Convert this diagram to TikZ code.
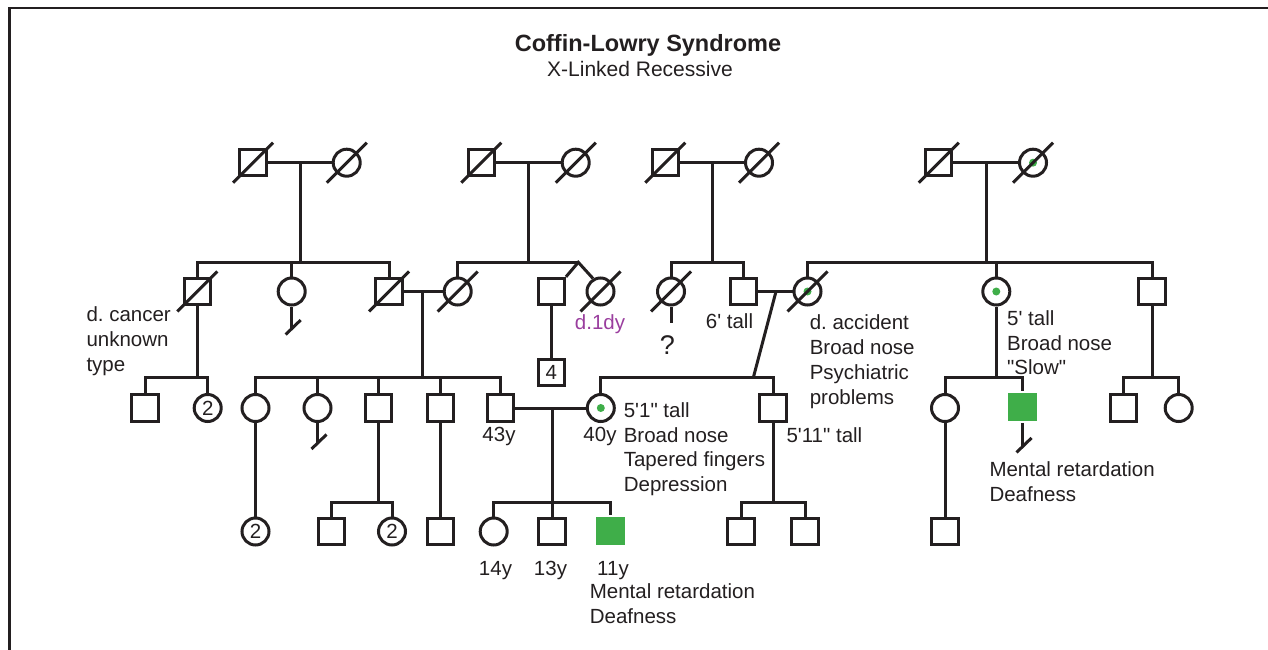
\documentclass[tikz,border=0pt]{standalone}
\usepackage{fontspec}
\setmainfont{Liberation Sans}
\usetikzlibrary{calc}
\definecolor{pdInk}{HTML}{231F20}
\definecolor{pdGreen}{HTML}{3FAE49}
\definecolor{pdPurple}{HTML}{9A3E9E}
\newcommand{\dead}[1]{\draw ($(#1)+(-20,20)$) -- ($(#1)+(20,-20)$);}
\newcommand{\stub}[2]{\draw (#1.south) -- ++(0,#2) coordinate (#1e);
  \draw ($(#1e)+(-6,6)$) -- ($(#1e)+(9,-8.5)$);}
\newcommand{\ft}{\textquotesingle}
\newcommand{\qt}{\textquotedbl}

\begin{document}
\frenchspacing
\begin{tikzpicture}[
  x=1pt,y=-1pt,
  line width=3pt,color=pdInk,
  font=\fontsize{20.5}{24.7}\selectfont,
  male/.style={draw,rectangle,minimum size=26.3pt,inner sep=0pt},
  female/.style={draw,circle,minimum size=27pt,inner sep=0pt},
  carrier/.style={female,path picture={\fill[pdGreen] (path picture bounding box.center) circle[radius=4pt];}},
  hit/.style={rectangle,fill=pdGreen,draw=none,minimum size=28.5pt,inner sep=0pt},
  note/.style={align=left,anchor=north west,inner sep=0pt},
  lbl/.style={anchor=base,inner sep=0pt}
]
\useasboundingbox (0,0) rectangle (1268,650);
\draw[line width=2.4pt] (9.5,650) |- (1268,7.9);
% title
\node[font=\fontsize{23.5}{27}\selectfont\bfseries,lbl] (title) at (648,52) {Coffin-Lowry Syndrome};
\node[font=\fontsize{21}{25}\selectfont,lbl] (subtitle) at (640,77) {X-Linked Recessive};

% generation I
\node[male] (a1) at (253,162.7) {};
\node[female] (a2) at (346.7,162.7) {};
\node[male] (a3) at (481.3,162.7) {};
\node[female] (a4) at (575.7,162.7) {};
\node[male] (a5) at (665.3,162.7) {};
\node[female] (a6) at (759,162.7) {};
\node[male] (a7) at (938.7,162.7) {};
\node[carrier] (a8) at (1033,162.7) {};
\foreach \n in {a1,a2,a3,a4,a5,a6,a7,a8} {\dead{\n}}

% generation II
\node[male] (b1) at (197.3,291.5) {};
\node[female] (b2) at (291.7,291.5) {};
\node[male] (b3) at (389,291.5) {};
\node[female] (b4) at (457.7,291.5) {};
\node[male] (b5) at (551.3,291.5) {};
\node[female] (b6) at (600.5,291.5) {};
\node[female] (b7) at (671,291.5) {};
\node[male] (b8) at (743.8,291.5) {};
\node[carrier] (b9) at (807.5,291.5) {};
\node[carrier] (b10) at (996.3,291.5) {};
\node[male] (b11) at (1152,291.5) {};
\foreach \n in {b1,b3,b4,b6,b7,b9} {\dead{\n}}
\node[male] (n4) at (551.3,372.2) {4};

% generation III
\node[male] (c1) at (145,408) {};
\node[female] (c2) at (207.7,408) {2};
\node[female] (c3) at (255.5,408) {};
\node[female] (c4) at (317.5,408) {};
\node[male] (c5) at (378.7,408) {};
\node[male] (c6) at (440.7,408) {};
\node[male] (c7) at (500.7,408) {};
\node[carrier] (c8) at (600.8,408) {};
\node[male] (c9) at (773,408) {};
\node[female] (c10) at (945,408) {};
\node[hit] (c11) at (1022.5,407.2) {};
\node[male] (c12) at (1123.3,408) {};
\node[female] (c13) at (1178.7,408) {};

% generation IV
\node[female] (d1) at (255.5,531.5) {2};
\node[male] (d2) at (331.7,531.5) {};
\node[female] (d3) at (392,531.5) {2};
\node[male] (d4) at (440.7,531.5) {};
\node[female] (d5) at (493.7,531.5) {};
\node[male] (d6) at (552,531.5) {};
\node[hit] (d7) at (610.5,531) {};
\node[male] (d8) at (741,531.5) {};
\node[male] (d9) at (805,531.5) {};
\node[male] (d10) at (945,531.5) {};

% lines I -> II
\coordinate (j1) at (300,262.3);
\coordinate (j2) at (528.3,262.3);
\coordinate (tw) at (578.3,262.3);
\coordinate (j3) at (712.7,262.3);
\coordinate (j4) at (986,262.3);
\draw (a1) -- (a2);
\draw (j1) -- (j1 |- a1);
\draw (b1) |- (j1) -| (b3);
\draw (b2) -- (b2 |- j1);
\draw (a3) -- (a4);
\draw (j2) -- (j2 |- a3);
\draw (b4) |- (tw);
\draw (b5.north east) -- (tw) -- (b6.120);
\draw (a5) -- (a6);
\draw (j3) -- (j3 |- a5);
\draw (b7) |- (j3) -| (b8);
\draw (a7) -- (a8);
\draw (j4) -- (j4 |- a7);
\draw (b9) |- (j4) -| (b11);
\draw (b10) -- (b10 |- j4);

% lines II -> III
\coordinate (j5) at (197.3,377.7);
\coordinate (j6) at (422.3,377.7);
\coordinate (m9) at (776,291.5);
\coordinate (j7) at (753.3,377.7);
\coordinate (j8) at (996.3,377.7);
\coordinate (j9) at (1152,377.7);
\stub{b2}{22}
\draw (b1) -- (j5);
\draw (c1) |- (j5) -| (c2);
\draw (b3) -- (b4);
\draw (j6) -- (j6 |- b3);
\draw (c3) |- (j6) -| (c7);
\foreach \n in {c4,c5,c6} {\draw (\n) -- (\n |- j6);}
\draw (b5) -- (n4);
\draw (b7.south) -- ++(0,16) coordinate (b7e);
\draw (b8) -- (b9);
\draw (m9) -- (j7);
\draw (c8) |- (j7) -| (c9);
\draw (b10) -- (j8);
\draw (c10) |- (j8) -| (c11);
\draw (b11) -- (j9);
\draw (c12) |- (j9) -| (c13);

% lines III -> IV
\coordinate (j10) at (378.7,502.3);
\coordinate (j11) at (552,502.3);
\coordinate (j12) at (773,502.3);
\draw (c3) -- (d1);
\stub{c4}{20}
\stub{c11}{23.5}
\draw (c5) -- (j10);
\draw (d2) |- (j10) -| (d3);
\draw (c6) -- (d4);
\draw (c7) -- (c8);
\draw (j11 |- c7) -- (d6);
\draw (d5) |- (j11) -| (d7);
\draw (c9) -- (j12);
\draw (d8) |- (j12) -| (d9);
\draw (c10) -- (d10);

% notes
\node[note] (t1) at (85,303.2) {\strut d. cancer\\unknown\\type};
\node[lbl,text=pdPurple] (t2) at (600,329) {d.1dy};
\node[lbl,font=\fontsize{27}{32}\selectfont] (t3) at (667.3,354) {?};
\node[lbl] (t4) at (729.5,328.5) {6\ft{} tall};
\node[note] (t5) at (808.3,311.2) {\strut d. accident\\Broad nose\\Psychiatric\\problems};
\node[note] (t6) at (1005.7,306.7) {\strut 5\ft{} tall\\Broad nose\\\qt Slow\qt};
\node[note] (t7) at (622.3,398.7) {\strut 5\ft 1\qt{} tall\\Broad nose\\Tapered fingers\\Depression};
\node[lbl] (t8) at (499,441.7) {43y};
\node[lbl] (t9) at (600,441.7) {40y};
\node[lbl,anchor=base west] (t10) at (785,442) {5\ft 11\qt{} tall};
\node[note] (t11) at (988,457.7) {\strut Mental retardation\\Deafness};
\node[lbl] (t12) at (495.5,575) {14y};
\node[lbl] (t13) at (550.5,575) {13y};
\node[lbl] (t14) at (613,575) {11y};
\node[note] (t15) at (588.3,579.7) {\strut Mental retardation\\Deafness};
\end{tikzpicture}
\end{document}
